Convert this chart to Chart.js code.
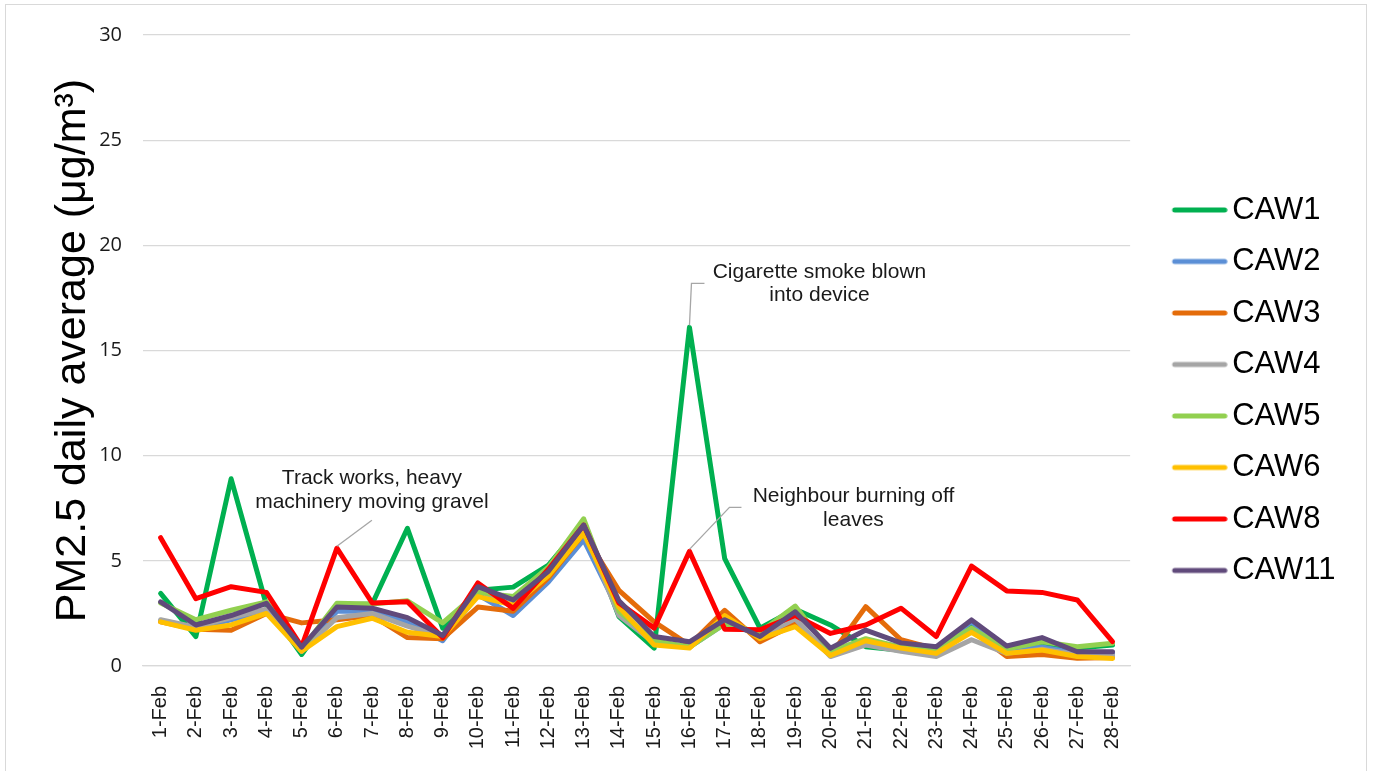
<!DOCTYPE html>
<html>
<head>
<meta charset="utf-8">
<script src="https://cdn.jsdelivr.net/npm/chart.js@4.4.1/dist/chart.umd.min.js"></script>
<style>
  html, body { margin: 0; padding: 0; background: #fff; }
  #wrap { width: 1375px; height: 771px; }
</style>
</head>
<body>
<div id="wrap"><canvas id="chartPM" width="1375" height="771"></canvas></div>
<script>
// Datos
const days = ['1-Feb', '2-Feb', '3-Feb', '4-Feb', '5-Feb', '6-Feb', '7-Feb', '8-Feb', '9-Feb', '10-Feb',
    '11-Feb', '12-Feb', '13-Feb', '14-Feb', '15-Feb', '16-Feb', '17-Feb', '18-Feb', '19-Feb', '20-Feb',
    '21-Feb', '22-Feb', '23-Feb', '24-Feb', '25-Feb', '26-Feb', '27-Feb', '28-Feb'];

const caw1  = [3.45, 1.4, 8.9, 2.9, 0.55, 2.9, 2.95, 6.55, 1.8, 3.6, 3.75, 4.8, 6.8, 2.35, 0.85, 16.1, 5.1, 1.8, 2.7, 1.95, 0.92, 0.75, 0.7, 2.0, 0.7, 1.0, 0.85, 1.0];
const caw2  = [2.15, 1.8, 2.2, 2.6, 0.7, 2.6, 2.6, 2.1, 1.2, 3.4, 2.4, 4.0, 6.0, 2.6, 1.1, 0.9, 2.0, 1.5, 2.1, 0.6, 1.2, 0.9, 0.85, 2.1, 0.7, 0.9, 0.6, 0.6];
const caw3  = [2.1, 1.75, 1.7, 2.5, 2.05, 2.2, 2.4, 1.35, 1.3, 2.8, 2.6, 4.2, 6.3, 3.6, 2.1, 1.0, 2.65, 1.15, 2.0, 0.5, 2.82, 1.25, 0.8, 1.7, 0.45, 0.55, 0.37, 0.4];
const caw4  = [2.2, 1.85, 2.3, 2.7, 0.7, 2.3, 2.5, 1.9, 1.4, 3.6, 2.9, 4.4, 6.5, 2.4, 1.1, 0.9, 2.2, 1.4, 2.25, 0.45, 1.0, 0.7, 0.45, 1.25, 0.6, 0.8, 0.55, 0.5];
const caw5  = [3.0, 2.2, 2.65, 3.05, 0.8, 2.98, 2.95, 3.1, 2.05, 3.5, 3.3, 4.7, 7.0, 2.6, 1.2, 0.9, 2.0, 1.6, 2.85, 0.7, 1.3, 0.9, 0.8, 1.8, 0.8, 1.15, 0.92, 1.08];
const caw6  = [2.1, 1.7, 1.95, 2.5, 0.7, 1.87, 2.27, 1.6, 1.4, 3.3, 2.9, 4.3, 6.3, 2.8, 1.0, 0.85, 2.4, 1.3, 1.87, 0.5, 1.2, 0.85, 0.6, 1.6, 0.6, 0.76, 0.45, 0.36];
const caw8  = [6.1, 3.2, 3.77, 3.5, 0.92, 5.6, 3.0, 3.05, 1.35, 3.95, 2.74, 4.6, 6.7, 3.0, 1.8, 5.45, 1.75, 1.72, 2.4, 1.55, 1.95, 2.75, 1.4, 4.75, 3.57, 3.5, 3.14, 1.16];
const caw11 = [3.05, 1.95, 2.4, 2.98, 0.9, 2.8, 2.75, 2.3, 1.45, 3.77, 3.14, 4.5, 6.7, 3.1, 1.4, 1.15, 2.2, 1.4, 2.58, 0.84, 1.71, 1.1, 0.92, 2.19, 0.95, 1.35, 0.68, 0.68];

const seriesNames  = ['CAW1', 'CAW2', 'CAW3', 'CAW4', 'CAW5', 'CAW6', 'CAW8', 'CAW11'];
const seriesValues = [caw1, caw2, caw3, caw4, caw5, caw6, caw8, caw11];
const seriesColors = ['#00b050', '#5b8fd6', '#e46c0a', '#a5a5a5', '#92d050', '#ffc000', '#ff0000', '#604a7b'];

const yTicks = [0, 5, 10, 15, 20, 25, 30];

// Notas del gráfico (serie + día donde apunta la flecha)
const notes = [
    { series: 'CAW8', day: '6-Feb', lines: ['Track works, heavy', 'machinery moving gravel'] },
    { series: 'CAW1', day: '16-Feb', lines: ['Cigarette smoke blown', 'into device'] },
    { series: 'CAW8', day: '16-Feb', lines: ['Neighbour burning off', 'leaves'] }
];

const FONT = "'Liberation Sans', Arial, sans-serif";

// Línea de la leyenda dibujada como imagen (para controlar el hueco con el texto)
function legendLine(color) {
    const c = document.createElement('canvas');
    c.width = 88;
    c.height = 8;
    const g = c.getContext('2d');
    g.strokeStyle = color;
    g.lineWidth = 5;
    g.lineCap = 'round';
    g.beginPath();
    g.moveTo(35, 4);
    g.lineTo(85, 4);
    g.stroke();
    return c;
}

// Marco exterior
const framePlugin = {
    id: 'frame',
    beforeDraw(chart) {
        const ctx = chart.ctx;
        ctx.save();
        ctx.fillStyle = '#ffffff';
        ctx.fillRect(0, 0, chart.width, chart.height);
        ctx.strokeStyle = '#d9d9d9';
        ctx.lineWidth = 1;
        ctx.strokeRect(5.5, 4.5, 1361, 800);
        ctx.restore();
    }
};

// Anotaciones con línea guía
const notesPlugin = {
    id: 'notes',
    afterDatasetsDraw(chart) {
        const ctx = chart.ctx;
        const xs = chart.scales.x;
        const ys = chart.scales.y;
        // desplazamientos respecto al punto: guía, centro del texto, y de cada línea
        const layout = [
            { path: [[35, -28]], tx: 35, ty: [-70, -46] },
            { path: [[2, -44], [15, -44]], tx: 130, ty: [-55, -32] },
            { path: [[40, -44], [52, -44]], tx: 164, ty: [-55, -31] }
        ];
        notes.forEach((n, i) => {
            const si = seriesNames.indexOf(n.series);
            const di = days.indexOf(n.day);
            const ax = xs.getPixelForValue(di);
            const ay = ys.getPixelForValue(seriesValues[si][di]);
            const l = layout[i];

            ctx.save();
            ctx.strokeStyle = '#a6a6a6';
            ctx.lineWidth = 1.3;
            ctx.beginPath();
            ctx.moveTo(ax, ay - 2);
            l.path.forEach(p => ctx.lineTo(ax + p[0], ay + p[1]));
            ctx.stroke();

            ctx.fillStyle = '#1a1a1a';
            ctx.font = '21px ' + FONT;
            ctx.textAlign = 'center';
            ctx.textBaseline = 'middle';
            n.lines.forEach((t, k) => ctx.fillText(t, ax + l.tx, ay + l.ty[k]));
            ctx.restore();
        });
    }
};

const datasets = seriesNames.map((name, i) => ({
    label: name,
    data: seriesValues[i],
    borderColor: seriesColors[i],
    backgroundColor: seriesColors[i],
    borderWidth: 5,
    borderCapStyle: 'round',
    borderJoinStyle: 'round',
    tension: 0,
    pointRadius: 0,
    pointHoverRadius: 0,
    pointStyle: legendLine(seriesColors[i]),
    order: seriesNames.length - i // la última serie queda encima
}));

new Chart(document.getElementById('chartPM'), {
    type: 'line',
    data: { labels: days, datasets: datasets },
    plugins: [framePlugin, notesPlugin],
    options: {
        responsive: false,
        animation: false,
        devicePixelRatio: 1,
        layout: { padding: { left: 0, top: 9.5, right: 29.5, bottom: 0 } },
        plugins: {
            tooltip: { enabled: false },
            // título vacío: solo reserva el margen superior del área del gráfico
            title: {
                display: true,
                text: '',
                fullSize: false,
                padding: { top: 1.5, bottom: 0 },
                font: { family: FONT, size: 20 }
            },
            legend: {
                position: 'right',
                labels: {
                    usePointStyle: true,
                    pointStyleWidth: 66,
                    padding: 20.5,
                    color: '#000',
                    font: { family: FONT, size: 31 },
                    sort: (a, b) => a.datasetIndex - b.datasetIndex
                }
            }
        },
        scales: {
            x: {
                offset: true,
                grid: { display: false },
                border: { display: true, color: '#d9d9d9', width: 1.3 },
                ticks: {
                    autoSkip: false,
                    minRotation: 90,
                    maxRotation: 90,
                    padding: 12,
                    color: '#1a1a1a',
                    font: { family: FONT, size: 20 }
                },
                afterFit(scale) { scale.height = 105; }
            },
            y: {
                min: 0,
                max: 30,
                afterBuildTicks(scale) { scale.ticks = yTicks.map(v => ({ value: v })); },
                grid: { color: '#d9d9d9', lineWidth: 1.3, drawTicks: false },
                border: { display: false },
                ticks: {
                    padding: 21,
                    color: '#1a1a1a',
                    font: { family: "'Open Sans', sans-serif", size: 20 }
                },
                title: {
                    display: true,
                    text: 'PM2.5 daily average (μg/m³)',
                    color: '#000',
                    padding: { top: 47, bottom: 0 },
                    font: { family: FONT, size: 43 }
                },
                afterFit(scale) { scale.width = 143; }
            }
        }
    }
});
</script>
</body>
</html>
